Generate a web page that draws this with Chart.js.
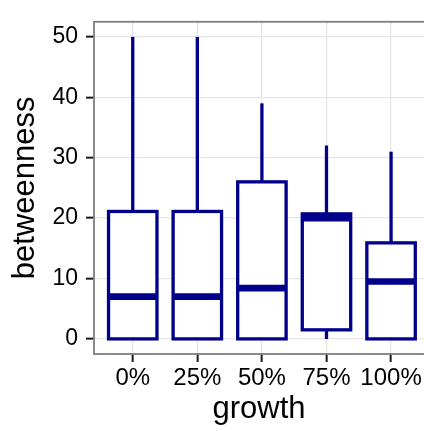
<!DOCTYPE html>
<html>
<head>
<meta charset="utf-8">
<script src="https://cdn.jsdelivr.net/npm/chart.js@4.4.1/dist/chart.umd.min.js"></script>
<style>
  html, body { margin: 0; padding: 0; background: #fff; }
  #wrap { width: 424px; height: 431px; }
</style>
</head>
<body>
<div id="wrap"><canvas id="boxChart"></canvas></div>
<script>
// betweenness by growth
const categories = ['0%', '25%', '50%', '75%', '100%'];
const whiskerLow = [0, 0, 0, 0, 0];
const q1 = [0, 0, 0, 1.5, 0];
const median = [7, 7, 8.4, 20.0, 9.5];
const q3 = [21.1, 21.1, 26.0, 20.7, 15.9];
const whiskerHigh = [50, 50, 39, 32, 31];
const yTicks = [0, 10, 20, 30, 40, 50];

const boxColor = '#00008B';
const fontFamily = "'Liberation Sans', Arial, sans-serif";

// whiskers, box outline and median line on top of the floating bars
const boxPlugin = {
    id: 'boxes',
    afterDatasetsDraw(chart) {
        const ctx = chart.ctx;
        const y = chart.scales.y;
        const meta = chart.getDatasetMeta(0);
        ctx.save();
        ctx.strokeStyle = boxColor;
        ctx.lineCap = 'butt';
        ctx.lineJoin = 'miter';
        meta.data.forEach((bar, i) => {
            const p = bar.getProps(['x', 'width'], true);
            const left = p.x - p.width / 2;
            const right = p.x + p.width / 2;
            const top = y.getPixelForValue(q3[i]);
            const bottom = y.getPixelForValue(q1[i]);
            ctx.lineWidth = 3.3;
            ctx.beginPath();
            ctx.moveTo(p.x, top);
            ctx.lineTo(p.x, y.getPixelForValue(whiskerHigh[i]));
            ctx.moveTo(p.x, bottom);
            ctx.lineTo(p.x, y.getPixelForValue(whiskerLow[i]));
            ctx.stroke();
            ctx.strokeRect(left, top, right - left, bottom - top);
            const m = y.getPixelForValue(median[i]);
            ctx.lineWidth = 6.6;
            ctx.beginPath();
            ctx.moveTo(left, m);
            ctx.lineTo(right, m);
            ctx.stroke();
        });
        ctx.restore();
    },
    afterDraw(chart) {
        const { ctx, chartArea } = chart;
        ctx.save();
        ctx.strokeStyle = '#7F7F7F';
        ctx.lineWidth = 1.8;
        ctx.strokeRect(chartArea.left, chartArea.top, chartArea.right - chartArea.left + 4, chartArea.bottom - chartArea.top);
        ctx.restore();
    }
};

const ctx = document.getElementById('boxChart').getContext('2d');
new Chart(ctx, {
    type: 'bar',
    data: {
        datasets: [{
            label: 'betweenness',
            data: categories.map((c, i) => ({ x: i + 1, y: [q1[i], q3[i]] })),
            backgroundColor: '#ffffff',
            borderWidth: 0,
            barPercentage: 0.75,
            categoryPercentage: 1
        }]
    },
    options: {
        responsive: true,
        maintainAspectRatio: false,
        animation: false,
        layout: { padding: { top: 8, left: 0, right: 0, bottom: 0 } },
        plugins: {
            legend: { display: false },
            tooltip: { enabled: false }
        },
        scales: {
            x: {
                type: 'linear',
                min: 0.4,
                max: 5.51,
                offset: false,
                afterBuildTicks: (scale) => {
                    scale.ticks = categories.map((c, i) => ({ value: i + 1 }));
                },
                afterFit: (scale) => { scale.height = 77; },
                grid: {
                    offset: false,
                    color: '#E6E6E6',
                    lineWidth: 1.3,
                    tickColor: '#1A1A1A',
                    tickWidth: 2,
                    tickLength: 8
                },
                border: { display: false },
                ticks: {
                    padding: 2,
                    color: '#000',
                    font: { family: fontFamily, size: 24 },
                    maxRotation: 0,
                    autoSkip: false,
                    callback: (v) => categories[v - 1]
                },
                title: {
                    display: true,
                    text: 'growth',
                    color: '#000',
                    font: { family: fontFamily, size: 31 },
                    padding: { top: 0, bottom: 3 }
                }
            },
            y: {
                min: -2.5,
                max: 52.5,
                afterBuildTicks: (scale) => {
                    scale.ticks = yTicks.map(v => ({ value: v }));
                },
                afterFit: (scale) => { scale.width = 94; },
                grid: {
                    color: '#E6E6E6',
                    lineWidth: 1.3,
                    tickColor: '#1A1A1A',
                    tickWidth: 2,
                    tickLength: 8
                },
                border: { display: false },
                ticks: {
                    padding: 8,
                    color: '#000',
                    font: { family: fontFamily, size: 23 }
                },
                title: {
                    display: true,
                    text: 'betweenness',
                    color: '#000',
                    font: { family: fontFamily, size: 31 },
                    padding: { top: 7, bottom: 0 }
                }
            }
        }
    },
    plugins: [boxPlugin]
});
</script>
</body>
</html>
